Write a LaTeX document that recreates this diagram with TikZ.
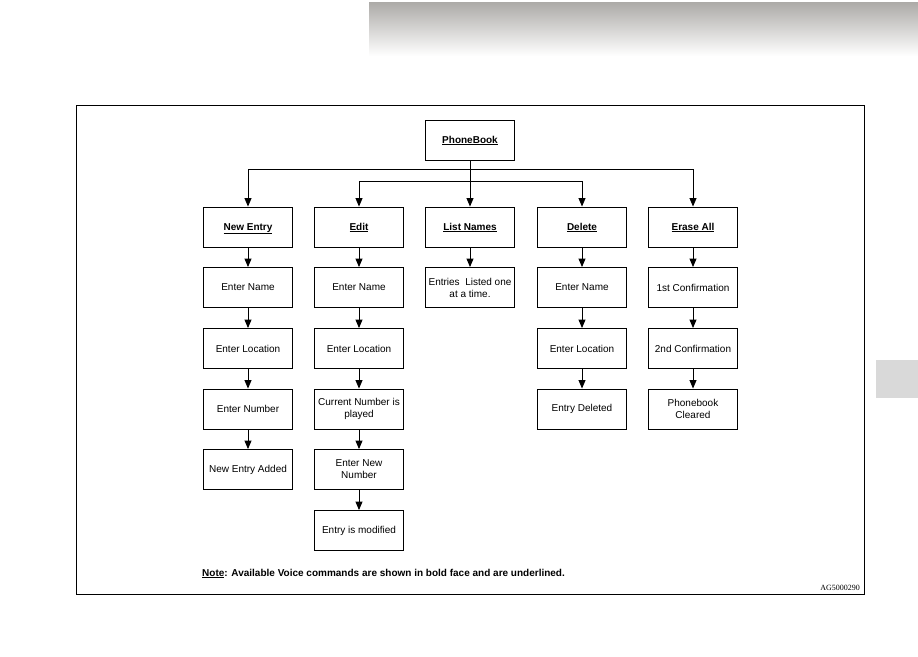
\documentclass[tikz,border=0pt]{standalone}
\usepackage{fontspec}
\setmainfont{Liberation Sans}
\newfontfamily\serifont{Liberation Serif}
\usetikzlibrary{arrows.meta}
\definecolor{hdrgray}{RGB}{172,170,167}
\definecolor{tabgray}{RGB}{217,217,217}
\begin{document}
\begin{tikzpicture}[x=1pt,y=-1pt,
  box/.style={draw, line width=0.9pt, minimum width=89pt, minimum height=40pt, inner sep=1pt, align=center, font=\fontsize{10}{12}\selectfont},
  hdr/.style={box, text height=7.5pt, text depth=1.5pt},
  arr/.style={-{Triangle[length=8.5pt,width=7pt]}, line width=0.9pt}]
\useasboundingbox (0,0) rectangle (918,656);
% header gradient
\shade[top color=hdrgray, bottom color=white, draw=none] (369,2) rectangle (918,56);
% side tab
\fill[tabgray] (876,360) rectangle (918,398);
% frame
\draw[line width=0.8pt] (76,105) rectangle (864,594);
% nodes
\node[hdr] (pb) at (470,140) {\underline{\textbf{PhoneBook}}};
\node[hdr] (ne) at (248,227) {\underline{\textbf{New Entry}}};
\node[hdr] (ed) at (359,227) {\underline{\textbf{Edit}}};
\node[hdr] (ls) at (470,227) {\underline{\textbf{List Names}}};
\node[hdr] (de) at (582,227) {\underline{\textbf{Delete}}};
\node[hdr] (ea) at (693,227) {\underline{\textbf{Erase All}}};
% new entry column
\node[box] (ne1) at (248,287.5) {Enter Name};
\node[box] (ne2) at (248,348.5) {Enter Location};
\node[box] (ne3) at (248,409) {Enter Number};
\node[box] (ne4) at (248,469.5) {New Entry Added};
% edit column
\node[box] (ed1) at (359,287.5) {Enter Name};
\node[box] (ed2) at (359,348.5) {Enter Location};
\node[box] (ed3) at (359,409) {Current Number is\\played};
\node[box] (ed4) at (359,469.5) {Enter New\\Number};
\node[box] (ed5) at (359,530.5) {Entry is modified};
% list names
\node[box] (ls1) at (470,287.5) {Entries\ \ Listed one\\at a time.};
% delete
\node[box] (de1) at (582,287.5) {Enter Name};
\node[box] (de2) at (582,348.5) {Enter Location};
\node[box] (de3) at (582,409) {Entry Deleted};
% erase all
\node[box] (ea1) at (693,287.5) {1st Confirmation};
\node[box] (ea2) at (693,348.5) {2nd Confirmation};
\node[box] (ea3) at (693,409) {Phonebook\\Cleared};
% top connectors
\coordinate (j1) at (470,169);
\coordinate (j2) at (470,181);
\draw[arr] (pb.south) -- (ls.north);
\draw[arr] (j1) -| (ne.north);
\draw[arr] (j1) -| (ea.north);
\draw[arr] (j2) -| (ed.north);
\draw[arr] (j2) -| (de.north);
% column connectors
\draw[arr] (ne) -- (ne1);
\draw[arr] (ne1) -- (ne2);
\draw[arr] (ne2) -- (ne3);
\draw[arr] (ne3) -- (ne4);
\draw[arr] (ed) -- (ed1);
\draw[arr] (ed1) -- (ed2);
\draw[arr] (ed2) -- (ed3);
\draw[arr] (ed3) -- (ed4);
\draw[arr] (ed4) -- (ed5);
\draw[arr] (ls) -- (ls1);
\draw[arr] (de) -- (de1);
\draw[arr] (de1) -- (de2);
\draw[arr] (de2) -- (de3);
\draw[arr] (ea) -- (ea1);
\draw[arr] (ea1) -- (ea2);
\draw[arr] (ea2) -- (ea3);
% note
\node[anchor=base west, inner sep=0pt, font=\fontsize{10}{12}\selectfont\bfseries] (note) at (202,576) {\underline{Note}: Available Voice commands are shown in bold face and are underlined.};
\node[anchor=base east, inner sep=0pt, font=\serifont\fontsize{8}{10}\selectfont] (ag) at (860,590) {AG5000290};
\end{tikzpicture}
\end{document}
